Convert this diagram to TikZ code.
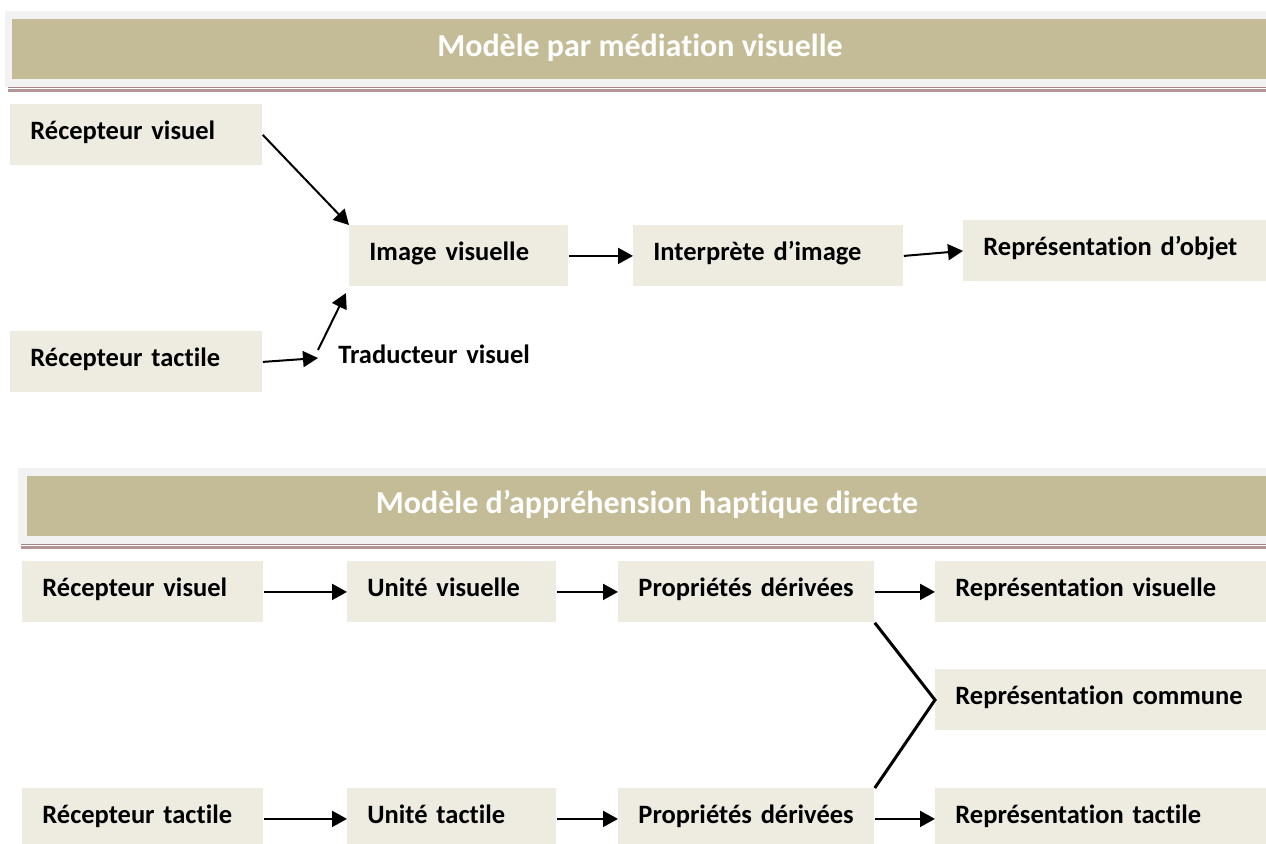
\documentclass[tikz,border=0pt]{standalone}
\usepackage{fontspec}
\setmainfont{Carlito}[Ligatures=NoCommon]
\usetikzlibrary{arrows.meta}

\definecolor{bandeau}{HTML}{C4BC96}
\definecolor{cadre}{HTML}{F2F2F2}
\definecolor{boite}{HTML}{EEECE1}
\definecolor{filet}{HTML}{B39595}
\definecolor{filetfonce}{HTML}{A58585}

\begin{document}
\begin{tikzpicture}[x=0.5pt,y=-0.5pt,
    bloc/.style={fill=boite, anchor=north west, minimum height=30.5pt,
        inner xsep=10pt, inner ysep=0pt, text width=#1, align=left,
        text height=0.75em, text depth=0.25em,
        font=\bfseries\fontsize{13.25}{16}\selectfont},
    titre/.style={text=white, text height=0.75em, text depth=0.25em,
        font=\bfseries\fontsize{16}{19}\selectfont},
    fleche/.style={-{Triangle[length=7.5pt,width=8pt]}, line width=1pt},
    trait/.style={line width=1.5pt}]
\useasboundingbox (0,0) rectangle (1266,843);

% Modele par mediation visuelle
\fill[cadre] (5,11) rectangle (1280,87);
\fill[bandeau] (12,19) rectangle (1280,79);
\draw[filetfonce, line width=0.5pt] (8,87.5) -- (1280,87.5);
\draw[filet, line width=1.5pt] (8,90.5) -- (1280,90.5);
\node[titre] (titre1) at (640,51) {Modèle par médiation visuelle};

\node[bloc=106pt] (rv1) at (10,104) {Récepteur visuel};
\node[bloc=106pt] (rt1) at (10,331) {Récepteur tactile};
\node[bloc=89.5pt] (iv) at (349,225) {Image visuelle};
\node[bloc=115pt] (interp) at (633,225) {Interprète d’image};
\node[bloc=150pt] (ro) at (963,220) {Représentation d’objet};
\node[bloc=115pt, fill=none, anchor=west] (trad) at (318,358) {Traducteur visuel};

\draw[fleche] (rv1.east) -- (iv.north west);
\draw[fleche] (rt1.east) -- (trad.west);
\draw[fleche, shorten >=3.5pt] ([yshift=4pt]trad.west) -- (iv.south west);
\draw[fleche] (iv.east) -- (interp.west);
\draw[fleche] (interp.east) -- (ro.west);

% Modele d'apprehension haptique directe
\fill[cadre] (18,468) rectangle (1280,544);
\fill[bandeau] (27,476) rectangle (1280,536);
\draw[filetfonce, line width=0.5pt] (21,544.5) -- (1280,544.5);
\draw[filet, line width=1.5pt] (21,547.5) -- (1280,547.5);
\node[titre] (titre2) at (647,508.5) {Modèle d’appréhension haptique directe};

\node[bloc=100.5pt] (rv2) at (22,561) {Récepteur visuel};
\node[bloc=84.5pt] (uv) at (347,561) {Unité visuelle};
\node[bloc=108pt] (pd1) at (618,561) {Propriétés dérivées};
\node[bloc=150pt] (rvis) at (935,561) {Représentation visuelle};
\node[bloc=150pt] (rc) at (935,669) {Représentation commune};
\node[bloc=100.5pt] (rt2) at (22,788) {Récepteur tactile};
\node[bloc=84.5pt] (ut) at (347,788) {Unité tactile};
\node[bloc=108pt] (pd2) at (618,788) {Propriétés dérivées};
\node[bloc=150pt] (rtac) at (935,788) {Représentation tactile};

\foreach \a/\b in {rv2/uv, uv/pd1, pd1/rvis, rt2/ut, ut/pd2, pd2/rtac} {
    \draw[fleche] (\a.east) -- (\b.west);
}
% vers la representation commune
\draw[trait] (pd1.south east) -- (rc.west) -- (pd2.north east);
\end{tikzpicture}
\end{document}
